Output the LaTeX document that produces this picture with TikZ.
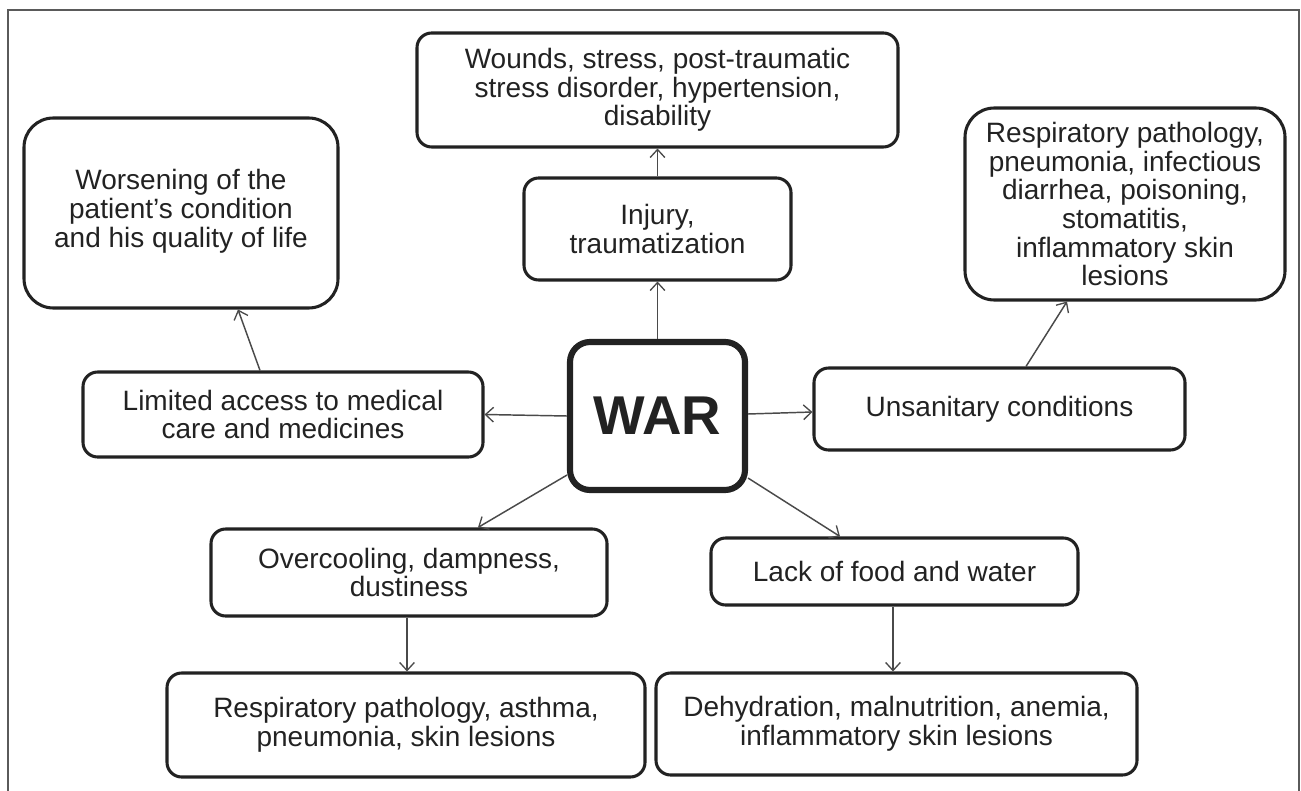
\documentclass[tikz,border=0pt]{standalone}
\usepackage{fontspec}
\setmainfont{Liberation Sans}
\usetikzlibrary{arrows.meta,calc}
\definecolor{ink}{HTML}{222222}
\definecolor{conn}{HTML}{4A4A4A}
\definecolor{frame}{HTML}{5A5A5A}
\begin{document}
\begin{tikzpicture}[x=0.75pt,y=-0.75pt,
  box/.style={draw=ink,line width=2.3pt,rounded corners=11pt,inner sep=0pt,align=center,
    font=\fontsize{21}{21.5}\selectfont,text=ink},
  bigbox/.style={box,rounded corners=22pt},
  warbox/.style={draw=ink,line width=4.6pt,rounded corners=15pt,inner sep=0pt,
    font=\fontsize{41}{41}\selectfont\bfseries,text=ink},
  conn/.style={draw=conn,line width=1.1pt,-{Straight Barb[length=6pt,width=11pt,line width=1pt]}}]
\useasboundingbox (0,0) rectangle (1301,791);
\draw[frame,line width=1.6pt] (8,791) -- (8,10) -- (1299,10) -- (1299,791);

\node[box,minimum width=360.75pt,minimum height=85.5pt] (wounds) at (657.5,90)
  {Wounds, stress, post-traumatic\\stress disorder, hypertension,\\disability};
\node[box,minimum width=200.25pt,minimum height=76.5pt] (injury) at (657.5,229)
  {Injury,\\traumatization};
\node[warbox,minimum width=131.25pt,minimum height=111pt] (war) at (657.5,416) {WAR};
\node[bigbox,minimum width=235.5pt,minimum height=142.5pt] (worse) at (181,213)
  {\raisebox{6pt}{\begin{tabular}{@{}c@{}}Worsening of the\\patient’s condition\\and his quality of life\end{tabular}}};
\node[box,minimum width=300pt,minimum height=63.75pt] (limited) at (283,414.5)
  {Limited access to medical\\care and medicines};
\node[box,minimum width=278.25pt,minimum height=61.5pt] (unsan) at (999.5,409)
  {Unsanitary conditions};
\node[bigbox,minimum width=240pt,minimum height=144pt] (resp) at (1125,204)
  {Respiratory pathology,\\pneumonia, infectious\\diarrhea, poisoning,\\stomatitis,\\inflammatory skin\\lesions};
\node[box,minimum width=297pt,minimum height=65.25pt] (overc) at (409,572.5)
  {Overcooling, dampness,\\dustiness};
\node[box,minimum width=275.25pt,minimum height=50.25pt] (lack) at (894.5,571.5)
  {Lack of food and water};
\node[box,minimum width=358.5pt,minimum height=78pt] (bl) at (406,725)
  {Respiratory pathology, asthma,\\pneumonia, skin lesions};
\node[box,minimum width=360.75pt,minimum height=76.5pt] (br) at (896.5,724)
  {Dehydration, malnutrition, anemia,\\inflammatory skin lesions};

\draw[conn] (war.north) -- (injury.south);
\draw[conn] (injury.north) -- (wounds.south);
\draw[conn] (war.west) -- (limited.east);
\draw[conn] ($(limited.north)+(-23,0)$) -- ($(worse.south)+(57,0)$);
\draw[conn] ($(war.east)+(0,-2)$) -- ($(unsan.west)+(0,3)$);
\draw[conn] ($(unsan.north)+(26.5,0)$) -- ($(resp.south)+(-58,0)$);
\draw[conn] ($(war.south west)+(0,-18)$) -- ($(overc.north)+(69,0)$);
\draw[conn] ($(war.south east)+(0,-15)$) -- ($(lack.north)+(-54.5,0)$);
\draw[conn] ($(overc.south)+(-2,0)$) -- ($(overc.south |- bl.north)+(-2,0)$);
\draw[conn] ($(lack.south)+(-1.5,0)$) -- ($(lack.south |- br.north)+(-1.5,0)$);
\end{tikzpicture}
\end{document}
